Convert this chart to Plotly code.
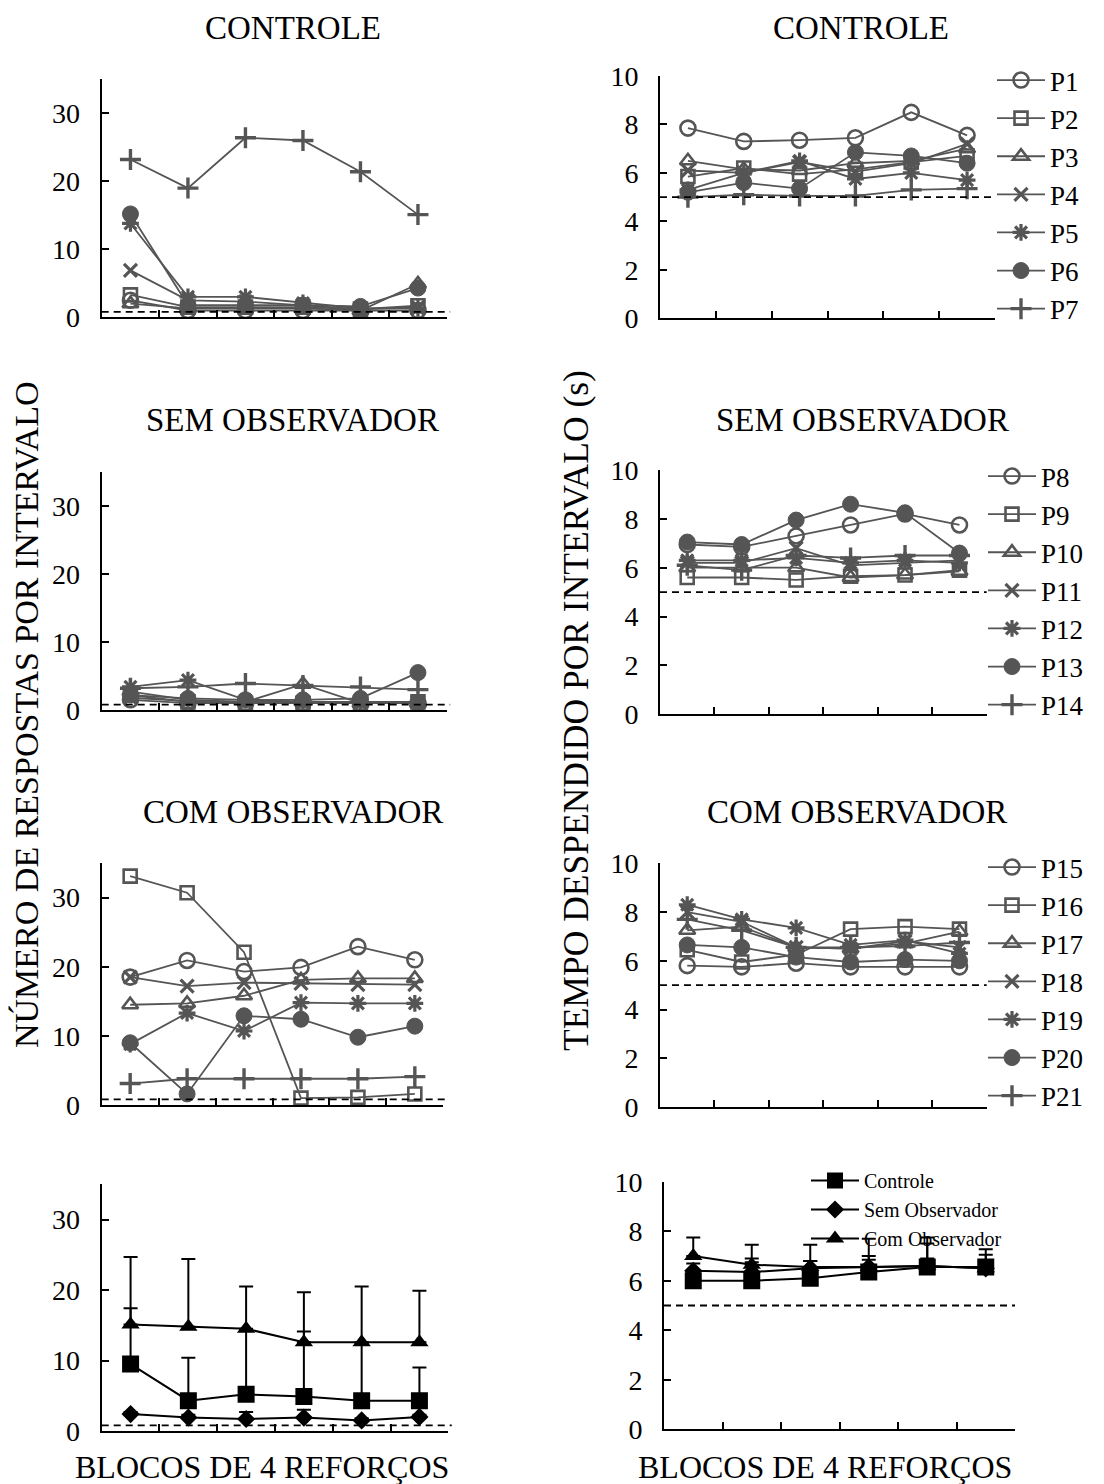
import plotly.graph_objects as go

blocks = [1, 2, 3, 4, 5, 6]

# ---------- Controle (P1-P7) ----------
ctrl_names = ["P1", "P2", "P3", "P4", "P5", "P6", "P7"]
ctrl_resp = [
    [2.5, 1.0, 1.0, 1.0, 1.0, 1.0],
    [3.3, 1.5, 1.5, 1.5, 1.2, 1.7],
    [2.0, 1.3, 1.3, 1.3, 1.0, 4.9],
    [6.9, 2.5, 2.3, 1.8, 1.2, 1.5],
    [13.8, 3.0, 3.0, 2.1, 1.3, 1.3],
    [15.2, 1.8, 1.8, 1.8, 1.6, 4.3],
    [23.2, 19.0, 26.4, 26.0, 21.4, 15.1],
]
ctrl_time = [
    [7.85, 7.3, 7.35, 7.45, 8.5, 7.55],
    [5.85, 6.2, 5.95, 6.15, 6.45, 6.7],
    [6.5, 6.15, 6.1, 6.4, 6.5, 7.0],
    [6.1, 6.0, 6.45, 6.05, 6.4, 7.2],
    [5.3, 6.0, 6.5, 5.75, 6.0, 5.7],
    [5.2, 5.6, 5.35, 6.85, 6.7, 6.4],
    [5.0, 5.1, 5.05, 5.05, 5.3, 5.35],
]

# ---------- Sem Observador (P8-P14) ----------
sem_names = ["P8", "P9", "P10", "P11", "P12", "P13", "P14"]
sem_resp = [
    [1.5, 1.0, 1.0, 1.0, 1.0, 1.0],
    [2.2, 1.2, 1.0, 1.0, 1.0, 1.2],
    [2.7, 1.5, 1.2, 3.8, 1.0, 1.0],
    [1.8, 1.3, 1.2, 1.2, 1.2, 1.2],
    [3.4, 4.4, 1.5, 1.2, 1.0, 1.0],
    [2.2, 1.7, 1.5, 1.5, 1.7, 5.5],
    [3.2, 3.4, 3.9, 3.6, 3.4, 3.0],
]
sem_time = [
    [6.95, 6.85, 7.3, 7.75, 8.2, 7.75],
    [5.6, 5.6, 5.5, 5.65, 5.7, 5.9],
    [6.0, 6.0, 6.0, 5.6, 5.7, 5.85],
    [6.2, 6.2, 6.8, 6.1, 6.2, 6.3],
    [6.3, 6.3, 6.4, 6.2, 6.3, 6.2],
    [7.05, 6.95, 7.95, 8.6, 8.25, 6.6],
    [6.1, 5.9, 6.5, 6.4, 6.5, 6.5],
]

# ---------- Com Observador (P15-P21) ----------
com_names = ["P15", "P16", "P17", "P18", "P19", "P20", "P21"]
com_resp = [
    [18.5, 20.9, 19.3, 19.9, 22.9, 21.0],
    [33.1, 30.7, 22.1, 1.0, 1.1, 1.6],
    [14.5, 14.7, 15.8, 18.1, 18.3, 18.3],
    [18.5, 17.2, 17.7, 17.6, 17.4, 17.4],
    [8.8, 13.3, 10.7, 14.8, 14.7, 14.7],
    [9.0, 1.6, 12.9, 12.4, 9.8, 11.4],
    [3.1, 3.8, 3.8, 3.8, 3.8, 4.1],
]
com_time = [
    [5.8, 5.75, 5.9, 5.75, 5.75, 5.75],
    [6.45, 5.95, 6.25, 7.3, 7.4, 7.3],
    [7.25, 7.4, 6.55, 6.5, 6.7, 7.2],
    [8.0, 7.6, 6.55, 6.5, 6.8, 6.55],
    [8.3, 7.7, 7.35, 6.65, 6.85, 6.3],
    [6.65, 6.55, 6.15, 5.95, 6.05, 6.0],
    [7.7, 7.25, 6.55, 6.55, 6.6, 6.75],
]

# ---------- Group means (bottom row) ----------
group_names = ["Controle", "Sem Observador", "Com Observador"]
mean_resp = [
    [9.5, 4.3, 5.2, 4.9, 4.3, 4.3],
    [2.4, 1.9, 1.7, 1.9, 1.5, 2.0],
    [15.1, 14.8, 14.5, 12.6, 12.6, 12.6],
]
sd_resp = [
    [7.9, 6.1, 9.1, 9.2, 8.2, 4.7],
    [0.3, 0.4, 1.0, 1.1, 0.3, 0.3],
    [9.6, 9.6, 6.0, 7.1, 7.9, 7.3],
]
mean_time = [
    [6.0, 6.0, 6.1, 6.35, 6.55, 6.55],
    [6.4, 6.35, 6.5, 6.55, 6.6, 6.5],
    [7.0, 6.65, 6.55, 6.55, 6.6, 6.5],
]
sd_time = [
    [0.3, 0.9, 0.7, 1.35, 1.2, 0.72],
    [0.3, 0.4, 0.3, 0.3, 0.3, 0.2],
    [0.75, 0.8, 0.9, 0.45, 0.9, 0.55],
]

criterion_resp = 0.8
criterion_time = 5.0

titles_rows = ["CONTROLE", "SEM OBSERVADOR", "COM OBSERVADOR"]
x_title = "BLOCOS DE 4 REFORÇOS"
y_title_left = "NÚMERO DE RESPOSTAS POR INTERVALO"
y_title_right = "TEMPO DESPENDIDO POR INTERVALO (s)"

# ---------------- styling ----------------
FONT = "Liberation Serif, Times New Roman, serif"
W, H = 1104, 1484
PAGE_OFFSET = 8  # default page body margin
GRAY = "#555555"

symbols = ["circle-open", "square-open", "triangle-up-open", "x-thin-open",
           "asterisk-open", "circle", "cross-thin-open"]
sizes = [15, 13, 14, 13, 14, 16, 15]
lwidths = [2.6, 2.6, 2.6, 3.2, 3.2, 1, 3.4]

group_symbols = ["square", "diamond", "triangle-up"]
group_sizes = [17, 14, 16]


def px_x(p):
    return (p - PAGE_OFFSET) / W


def py(p):
    return 1 - (p - PAGE_OFFSET) / H


# panel pixel geometry: (x0, x1, y_zero_px, y_top_px)
left_geo = [
    (101.7, 446.7, 317.3, 79.3),
    (101.7, 446.7, 710.0, 472.0),
    (101.7, 443.3, 1105.0, 863.0),
    (101.7, 448.3, 1431.0, 1184.3),
]
right_geo = [
    (660.0, 995.0, 318.3, 76.0),
    (660.0, 986.7, 714.3, 470.0),
    (660.0, 986.7, 1107.0, 863.3),
    (664.0, 1015.0, 1429.3, 1181.7),
]

fig = go.Figure()
layout = {}

axis_common = dict(
    showline=True, linecolor="black", linewidth=2, mirror=False,
    showgrid=False, zeroline=False, ticks="inside", tickcolor="black",
    tickwidth=2, ticklen=7, automargin=False,
    tickfont=dict(family=FONT, size=28, color="black"),
)

for i in range(4):
    for side in range(2):
        k = i * 2 + side + 1
        xa = "xaxis" if k == 1 else f"xaxis{k}"
        ya = "yaxis" if k == 1 else f"yaxis{k}"
        geo = left_geo[i] if side == 0 else right_geo[i]
        x0, x1, yz, yt = geo
        layout[xa] = dict(
            axis_common, domain=[px_x(x0), px_x(x1)], anchor=f"y{k}" if k > 1 else "y",
            range=[0.5, 6.5], tickvals=[1.5, 2.5, 3.5, 4.5, 5.5, 6.5],
            showticklabels=False,
        )
        if side == 0:
            layout[ya] = dict(
                axis_common, domain=[py(yz), py(yt)], anchor=f"x{k}" if k > 1 else "x",
                range=[0, 35], tickvals=[0, 10, 20, 30], ticklabelstandoff=14,
            )
        else:
            layout[ya] = dict(
                axis_common, domain=[py(yz), py(yt)], anchor=f"x{k}" if k > 1 else "x",
                range=[0, 10], tickvals=[0, 2, 4, 6, 8, 10], ticklabelstandoff=14,
            )

groups = [
    (ctrl_names, ctrl_resp, ctrl_time),
    (sem_names, sem_resp, sem_time),
    (com_names, com_resp, com_time),
]
legend_ids = ["legend", "legend2", "legend3"]

for i, (names, resp, time) in enumerate(groups):
    kl = i * 2 + 1
    kr = i * 2 + 2
    xl = "x" if kl == 1 else f"x{kl}"
    yl = "y" if kl == 1 else f"y{kl}"
    for j, nm in enumerate(names):
        mk = dict(symbol=symbols[j], size=sizes[j], color=GRAY,
                  line=dict(color=GRAY, width=lwidths[j]))
        fig.add_trace(go.Scatter(
            x=blocks, y=resp[j], mode="lines+markers", name=nm,
            line=dict(color=GRAY, width=1.8), marker=mk,
            xaxis=xl, yaxis=yl, showlegend=False,
        ))
    for j, nm in enumerate(names):
        mk = dict(symbol=symbols[j], size=sizes[j], color=GRAY,
                  line=dict(color=GRAY, width=lwidths[j]))
        fig.add_trace(go.Scatter(
            x=blocks, y=time[j], mode="lines+markers", name=nm,
            line=dict(color=GRAY, width=1.8), marker=mk,
            xaxis=f"x{kr}", yaxis=f"y{kr}", showlegend=True,
            legend=legend_ids[i],
        ))

# bottom row
for g in range(3):
    fig.add_trace(go.Scatter(
        x=blocks, y=mean_resp[g], mode="lines+markers", name=group_names[g],
        line=dict(color="black", width=2),
        marker=dict(symbol=group_symbols[g], size=group_sizes[g], color="black"),
        error_y=dict(type="data", array=sd_resp[g], arrayminus=[0] * 6,
                     symmetric=False, color="black", thickness=2, width=7),
        xaxis="x7", yaxis="y7", showlegend=False,
    ))
for g in range(3):
    fig.add_trace(go.Scatter(
        x=blocks, y=mean_time[g], mode="lines+markers", name=group_names[g],
        line=dict(color="black", width=2),
        marker=dict(symbol=group_symbols[g], size=group_sizes[g], color="black"),
        error_y=dict(type="data", array=sd_time[g], arrayminus=[0] * 6,
                     symmetric=False, color="black", thickness=2, width=7),
        xaxis="x8", yaxis="y8", showlegend=True, legend="legend4",
    ))

# criterion dashed lines
shapes = []
for i in range(4):
    kl = i * 2 + 1
    kr = i * 2 + 2
    xl = "x" if kl == 1 else f"x{kl}"
    yl = "y" if kl == 1 else f"y{kl}"
    shapes.append(dict(type="line", xref=f"{xl} domain", yref=yl, x0=0, x1=1.01,
                       y0=criterion_resp, y1=criterion_resp,
                       line=dict(color="black", width=1.8, dash="7px,5px")))
    shapes.append(dict(type="line", xref=f"x{kr} domain", yref=f"y{kr}", x0=0, x1=1,
                       y0=criterion_time, y1=criterion_time,
                       line=dict(color="black", width=1.8, dash="7px,5px")))

annotations = []
title_font = dict(family=FONT, size=33, color="black")
title_pos = [(293, 28, 861, 28), (292.5, 420, 862, 420), (292.5, 812, 857, 812)]
for i, t in enumerate(titles_rows):
    lx, ly, rx, ry = title_pos[i]
    annotations.append(dict(text=t, x=px_x(lx), y=py(ly), xref="paper", yref="paper",
                            showarrow=False, font=title_font, xanchor="center", yanchor="middle"))
    annotations.append(dict(text=t, x=px_x(rx), y=py(ry), xref="paper", yref="paper",
                            showarrow=False, font=title_font, xanchor="center", yanchor="middle"))
for cx in (261.5, 825):
    annotations.append(dict(text=x_title, x=px_x(cx), y=py(1467), xref="paper", yref="paper",
                            showarrow=False, font=dict(family=FONT, size=32, color="black"),
                            xanchor="center", yanchor="middle"))
annotations.append(dict(text=y_title_left, x=px_x(27), y=py(715), xref="paper", yref="paper",
                        showarrow=False, font=dict(family=FONT, size=34, color="black"),
                        textangle=-90, xanchor="center", yanchor="middle"))
annotations.append(dict(text=y_title_right, x=px_x(576), y=py(711), xref="paper", yref="paper",
                        showarrow=False, font=dict(family=FONT, size=35.5, color="black"),
                        textangle=-90, xanchor="center", yanchor="middle"))

leg_font = dict(family=FONT, size=27, color="black")
leg_common = dict(font=leg_font, bgcolor="rgba(0,0,0,0)", borderwidth=0,
                  itemwidth=48, tracegroupgap=0, xanchor="left", yanchor="top",
                  traceorder="normal")
layout["legend"] = dict(leg_common, x=px_x(992), y=py(56))
layout["legend2"] = dict(leg_common, x=px_x(983), y=py(452))
layout["legend3"] = dict(leg_common, x=px_x(983), y=py(843))
layout["legend4"] = dict(font=dict(family=FONT, size=20, color="black"),
                         bgcolor="rgba(0,0,0,0)", borderwidth=0, itemwidth=48,
                         xanchor="left", yanchor="top", traceorder="normal",
                         x=px_x(806), y=py(1161))

fig.update_layout(
    template="none",
    width=W, height=H, margin=dict(l=0, r=0, t=0, b=0, autoexpand=False),
    paper_bgcolor="white", plot_bgcolor="white",
    font=dict(family=FONT, color="black"),
    shapes=shapes, annotations=annotations, **layout,
)

fig.write_html("out.html")
